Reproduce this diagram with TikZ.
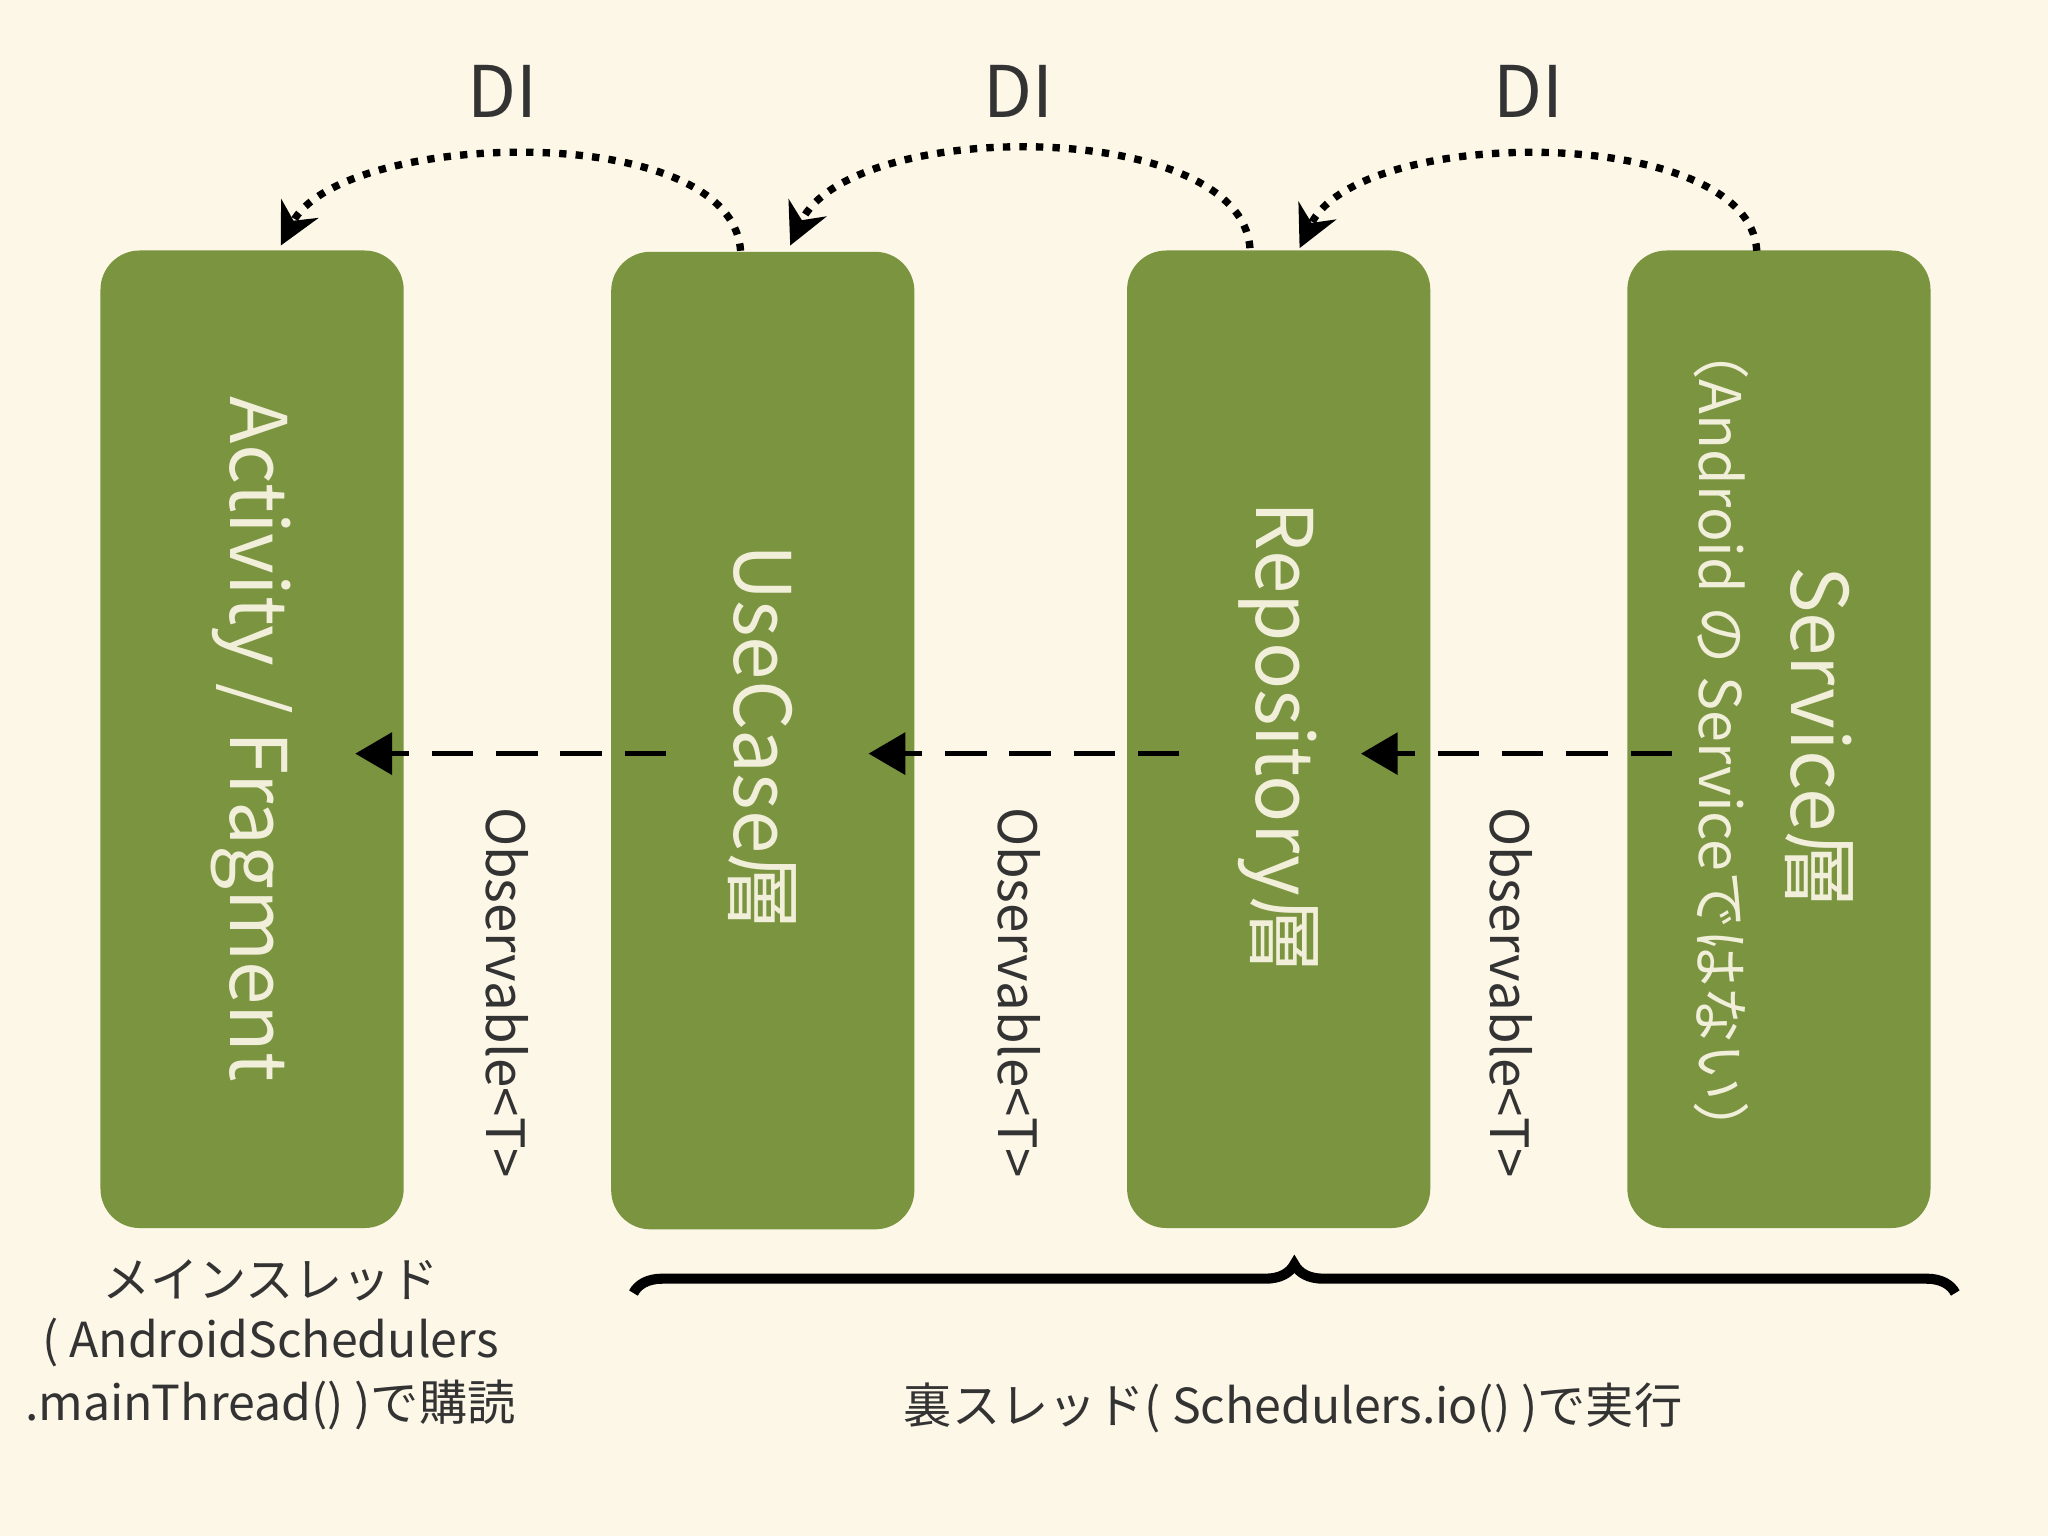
\documentclass[tikz,border=0pt]{standalone}
\usepackage{fontspec}
\setmainfont{Noto Sans CJK JP}
\usetikzlibrary{arrows.meta,decorations.pathreplacing}
\definecolor{bg}{HTML}{FDF7E7}
\definecolor{gr}{HTML}{7A943F}
\definecolor{lt}{HTML}{F1EEDA}
\definecolor{dk}{HTML}{333333}
\begin{document}
\begin{tikzpicture}[x=0.01cm,y=-0.01cm,
  box/.style={draw=none,fill=gr,rounded corners=0.3cm,minimum width=2.32cm,minimum height=7.48cm,inner sep=0},
  big/.style={text=lt,font=\fontsize{17}{20}\selectfont,rotate=-90},
  obs/.style={text=dk,font=\fontsize{11.5}{14}\selectfont,rotate=-90},
  da/.style={very thick,dashed,dash pattern=on 9pt off 5pt,-{Triangle[length=8pt,width=9pt]}},
  di/.style={line width=1.6pt,dotted,-{Stealth[length=9pt,width=9pt]}},
  lab/.style={text=dk,font=\fontsize{15.5}{18}\selectfont},
  bot/.style={text=dk,font=\fontsize{10.5}{13}\selectfont}]
\fill[bg] (0,0) rectangle (1568,1176);
\useasboundingbox (0,0) rectangle (1568,1176);
\node[box] (act) at (193,566) {};
\node[box] (uc) at (584,567) {};
\node[box] (rep) at (979,566) {};
\node[box] (srv) at (1362,566) {};
\node[big] at (193,566) {Activity / Fragment};
\node[big] at (584,565) {UseCase層};
\node[big] at (979,565) {Repository層};
\node[big] at (1393,565) {Service層};
\node[big,font=\fontsize{12.5}{15}\selectfont] at (1318,567) {（Android の Serviceではない）};
\coordinate (a1s) at (510,577); \coordinate (a1e) at (272,577);
\coordinate (a2s) at (903,577); \coordinate (a2e) at (665,577);
\coordinate (a3s) at (1280,577); \coordinate (a3e) at (1042,577);
\draw[da] (a1s) -- (a1e);
\draw[da] (a2s) -- (a2e);
\draw[da] (a3s) -- (a3e);
\node[obs] at (388,760) {Observable<T>};
\node[obs] at (780,760) {Observable<T>};
\node[obs] at (1157,760) {Observable<T>};
\draw[di] (567,192) .. controls (560,90) and (260,100) .. (215,188);
\draw[di] (957,190) .. controls (950,90) and (650,90) .. (605,188);
\draw[di] (1345,192) .. controls (1340,95) and (1040,95) .. (995,190);
\node[lab] at (385,70) {DI};
\node[lab] at (780,70) {DI};
\node[lab] at (1170,70) {DI};
\node[bot] at (207,980) {メインスレッド};
\node[bot] at (207,1028) {( AndroidSchedulers};
\node[bot] at (207,1076) {.mainThread() )で購読};
\coordinate (b1) at (485,990); \coordinate (b2) at (1497,990);
\draw[line width=2.2pt,decorate,decoration={brace,mirror,amplitude=0.22cm}] (b2) -- (b1);
\node[bot] at (990,1078) {裏スレッド( Schedulers.io() )で実行};
\end{tikzpicture}
\end{document}
